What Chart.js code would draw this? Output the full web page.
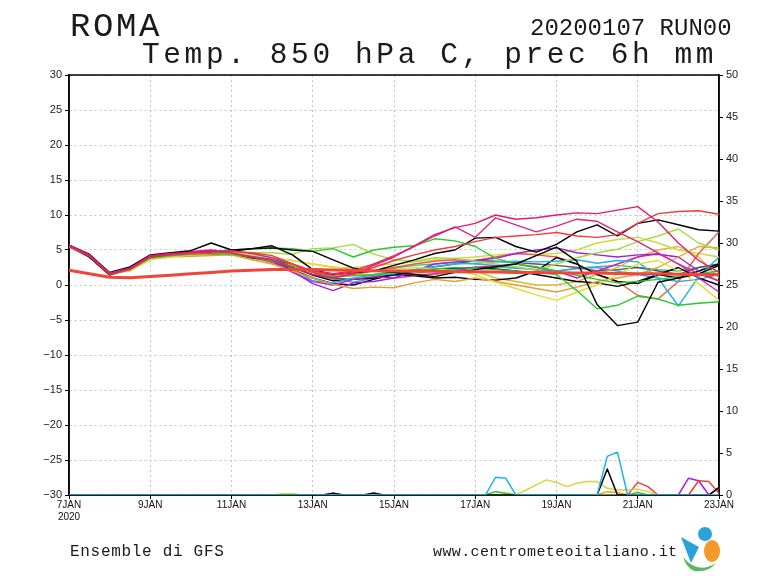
<!DOCTYPE html>
<html><head><meta charset="utf-8">
<script src="https://cdn.jsdelivr.net/npm/chart.js@4/dist/chart.umd.min.js"></script>
<style>
html,body{margin:0;padding:0;background:#fff;}
#wrap{position:relative;width:768px;height:576px;overflow:hidden;background:#fff;}
#c{position:absolute;left:0;top:0;}
.t{position:absolute;font-family:"Liberation Mono",monospace;color:#1a1a1a;white-space:nowrap;line-height:1;}
</style></head><body>
<div id="wrap">
<canvas id="c" width="768" height="576"></canvas>
<div class="t" style="left:70px;top:10px;font-size:34px;letter-spacing:2.6px;">ROMA</div>
<div class="t" style="left:530px;top:17px;font-size:24px;">20200107 RUN00</div>
<div class="t" style="left:142px;top:41px;font-size:29.5px;letter-spacing:3.6px;">Temp. 850 hPa C, prec 6h mm</div>
<div class="t" style="left:70px;top:544px;font-size:16px;letter-spacing:0.7px;">Ensemble di GFS</div>
<div class="t" style="left:433px;top:545px;font-size:15px;letter-spacing:0.4px;">www.centrometeoitaliano.it</div>
<svg style="position:absolute;left:678px;top:525px" width="44" height="48" viewBox="0 0 44 48">
 <circle cx="27" cy="9" r="7" fill="#29a3dc"/>
 <path d="M3 12 L13 38 L21 22 Z" fill="#29a3dc"/>
 <ellipse cx="34" cy="26" rx="8" ry="11" fill="#f39a2b"/>
 <path d="M5 32 Q20 50 38 38 Q30 48 16 46 Q8 42 5 32 Z" fill="#5cb85c"/>
</svg>
</div>
<script>
// ---- time axes (days since 7 JAN 2020 00Z) ----
const tempDays = [0,0.5,1,1.5,2,2.5,3,3.5,4,4.5,5,5.5,6,6.5,7,7.5,8,8.5,9,9.5,10,10.5,11,11.5,12,12.5,13,13.5,14,14.5,15,15.5,16];
const precipDays = [0,0.25,0.5,0.75,1,1.25,1.5,1.75,2,2.25,2.5,2.75,3,3.25,3.5,3.75,4,4.25,4.5,4.75,5,5.25,5.5,5.75,6,6.25,6.5,6.75,7,7.25,7.5,7.75,8,8.25,8.5,8.75,9,9.25,9.5,9.75,10,10.25,10.5,10.75,11,11.25,11.5,11.75,12,12.25,12.5,12.75,13,13.25,13.5,13.75,14,14.25,14.5,14.75,15,15.25,15.5,15.75,16];
const xTickLabels = ['7JAN','9JAN','11JAN','13JAN','15JAN','17JAN','19JAN','21JAN','23JAN'];
const yearLabel = '2020';

// ---- 850 hPa temperature, ensemble members (C) ----
const climT = [2.1,1.6,1.1,1.05,1.2,1.4,1.6,1.8,2.0,2.1,2.2,2.2,2.2,2.15,2.1,2.05,2.0,2.0,1.95,1.9,1.9,1.85,1.8,1.8,1.75,1.7,1.7,1.65,1.6,1.6,1.55,1.5,1.5];
const m01 = [5.6,4.2,1.6,2.3,4.1,4.4,4.7,4.9,4.6,4.0,3.6,2.4,1.5,1.0,1.6,2.8,4.0,5.6,7.2,8.2,8.8,10.0,9.4,9.6,10.0,10.3,10.2,10.7,11.2,9.0,6.0,3.5,1.8];
const m02 = [5.5,4.1,1.5,2.2,4.0,4.3,4.5,4.6,4.8,4.6,4.2,3.0,1.8,1.4,1.8,2.5,3.5,4.3,5.0,5.5,6.2,6.8,7.0,7.2,7.5,7.0,6.8,7.2,8.8,10.2,10.5,10.6,10.1];
const m03 = [5.7,4.3,1.7,2.4,4.2,4.5,4.6,4.8,4.9,4.5,3.9,3.0,2.0,1.6,2.0,3.0,4.2,5.5,7.0,8.3,6.8,9.6,8.6,7.6,8.4,9.4,9.1,7.6,6.2,4.6,3.0,1.6,0.6];
const m04 = [5.7,4.4,1.8,2.6,4.3,4.6,4.9,6.0,5.0,5.2,5.6,4.3,2.2,1.5,1.8,2.0,2.8,3.6,4.5,5.0,6.7,6.8,5.5,4.7,5.8,7.6,8.6,7.0,8.8,9.3,8.6,7.9,7.7];
const m05 = [5.6,4.0,1.5,2.4,4.0,4.4,4.6,4.7,4.8,5.2,5.3,5.0,4.8,3.6,2.4,2.0,1.8,1.5,1.2,1.8,2.2,2.6,3.0,4.2,5.4,3.4,-2.8,-5.8,-5.3,0.4,1.0,1.6,2.8];
const m06 = [5.5,4.0,1.4,2.2,3.9,4.2,4.4,4.5,4.4,4.0,3.4,2.6,1.8,1.2,1.3,1.5,1.8,2.0,2.3,2.5,2.4,2.2,2.0,1.8,1.5,-0.8,-3.4,-2.9,-1.6,-2.0,-2.9,-2.6,-2.4];
const m07 = [5.6,4.1,1.5,2.3,4.0,4.3,4.6,4.8,5.0,5.1,5.3,5.2,4.8,5.2,4.0,5.0,5.4,5.6,6.6,6.3,5.5,3.8,3.0,2.6,2.0,1.4,0.8,0.3,0.5,0.8,1.2,1.6,2.0];
const m08 = [5.6,4.2,1.7,2.1,3.7,4.1,4.4,4.6,4.7,4.6,4.6,4.4,5.2,5.3,5.8,4.4,3.6,3.4,3.9,3.8,3.4,3.0,2.6,2.1,3.0,3.9,4.6,5.1,6.2,7.0,8.0,6.0,5.0];
const m09 = [5.5,4.0,1.6,2.0,3.6,4.0,4.3,4.5,4.6,4.3,3.9,3.5,3.0,2.6,2.2,2.0,2.2,2.5,2.3,2.0,1.5,0.4,-0.5,-1.4,-2.2,-1.0,0.0,1.5,3.0,3.5,2.0,0.2,-2.2];
const m10 = [5.6,4.1,1.6,2.2,3.8,4.0,4.1,4.2,4.3,3.6,3.0,2.0,1.0,0.1,-0.5,-0.3,-0.4,0.3,0.8,0.5,1.0,0.5,0.0,-0.5,-1.0,-0.3,0.5,1.0,1.5,2.5,4.0,5.5,5.3];
const m11 = [5.6,4.2,1.6,2.4,4.0,4.3,4.5,4.7,4.6,4.2,3.7,2.3,0.6,0.3,1.0,1.4,1.6,2.2,2.6,3.0,3.1,3.3,3.4,3.3,3.4,3.6,3.1,3.5,3.3,1.0,-3.0,1.2,4.0];
const m12 = [5.7,4.3,1.6,2.5,4.2,4.5,4.7,4.9,4.7,4.2,3.5,2.0,0.2,-0.8,0.3,0.5,1.0,2.0,3.0,3.3,3.5,3.8,4.5,5.0,5.3,4.6,4.3,4.0,4.3,4.4,4.0,2.0,0.5];
const m13 = [5.6,4.2,1.5,2.3,4.1,4.4,4.8,5.0,4.7,4.1,3.3,1.8,0.5,0.0,0.8,1.2,1.0,1.3,1.6,2.0,2.5,2.8,3.0,2.5,2.0,1.0,2.0,3.0,4.0,4.5,3.0,1.0,-1.0];
const m14 = [5.5,4.0,1.4,2.3,4.0,4.3,4.5,4.6,4.6,4.1,3.4,2.2,1.0,0.2,0.0,0.8,1.5,1.3,1.0,1.1,0.8,0.7,1.0,2.0,3.9,3.0,1.5,0.5,0.2,1.5,1.0,2.0,3.0];
const m15 = [5.6,4.1,1.5,2.4,4.1,4.5,4.6,4.7,4.5,3.9,3.5,2.6,1.4,0.6,0.8,1.0,1.5,2.0,2.2,2.4,2.5,2.3,2.0,1.5,1.0,0.5,0.3,-0.2,0.5,1.5,2.5,1.0,0.0];
const m16 = [5.6,4.0,1.5,2.3,3.9,4.1,4.3,4.4,4.5,4.0,3.2,2.5,1.5,1.2,1.5,2.0,2.5,3.0,3.4,3.6,3.5,4.0,4.5,4.3,4.0,3.0,1.5,0.5,-1.5,-2.0,0.5,4.5,7.6];
const m17 = [5.6,4.1,1.6,2.4,4.0,4.2,4.4,4.5,4.5,4.2,3.8,3.5,3.0,2.5,2.5,2.8,3.0,3.3,3.6,3.8,4.0,4.3,4.5,4.4,4.5,5.0,6.0,6.5,6.8,6.0,5.0,4.5,4.0];
const m18 = [5.5,4.0,1.5,2.2,3.8,4.1,4.3,4.4,4.3,3.8,3.3,2.8,2.0,1.6,1.4,1.5,1.8,1.6,1.5,1.8,2.0,1.0,0.5,0.0,0.0,0.5,1.5,2.5,4.0,5.0,5.5,4.0,1.0];
const m19 = [5.6,4.2,1.6,2.3,4.0,4.4,4.6,4.7,4.6,4.2,3.7,2.8,1.8,1.0,0.8,1.2,1.8,2.2,2.6,3.0,3.5,3.4,3.2,3.0,2.8,2.5,2.0,2.2,2.5,2.0,1.5,2.5,3.0];
const m20 = [5.6,4.1,1.5,2.4,4.1,4.4,4.6,4.7,4.5,4.0,3.5,2.6,1.4,0.8,0.4,1.0,1.4,1.7,2.0,2.2,2.5,2.6,2.4,2.2,2.0,2.3,2.5,2.0,1.5,1.0,0.5,0.8,1.5];
const m21 = [5.5,4.0,1.5,2.3,3.9,4.3,4.5,4.6,4.4,4.0,3.6,2.9,2.0,1.5,1.7,2.0,2.4,2.8,3.0,3.2,3.0,2.8,2.5,2.2,2.0,2.4,2.6,2.8,2.5,2.2,2.0,2.5,3.0];

// ---- 6h precipitation (mm), right axis ----
const precipCyan = [0,0,0,0, 0,0,0,0, 0,0,0,0, 0,0,0,0, 0,0,0,0, 0,0,0,0, 0,0,0,0, 0,0,0,0, 0,0,0,0, 0,0,0,0, 0,0,2.1,2.0, 0,0,0,0, 0,0,0,0, 0,4.6,5.1,0, 0,0,0,0, 0,0,0,0, 0];
const precipBlack = [0,0,0,0, 0,0,0,0, 0,0,0,0, 0,0,0,0, 0,0,0,0, 0,0,0,0, 0,0,0.2,0, 0,0,0.25,0, 0,0,0,0, 0,0,0,0, 0,0,0,0, 0,0,0,0, 0,0,0,0, 0,3.1,0,0, 0,0,0,0, 0,0,0,0, 0.9];
const precipYellow = [0,0,0,0, 0,0,0,0, 0,0,0,0, 0,0,0,0, 0,0,0,0, 0,0.15,0.15,0, 0,0,0,0, 0,0,0,0, 0,0,0,0, 0,0,0,0, 0,0,0,0, 0,0.6,1.2,1.8, 1.5,1.0,1.4,1.6, 1.6,0.8,0.6,0.6, 0.7,0.4,0,0, 0,0,0,0, 0];
const precipGreen = [0,0,0,0, 0,0,0,0, 0,0,0,0, 0,0,0,0, 0,0,0,0, 0,0,0,0, 0,0,0,0, 0,0,0,0, 0,0,0,0, 0,0,0,0, 0,0,0.4,0.2, 0,0,0,0, 0,0,0,0, 0,0,0,0, 0.3,0,0,0, 0,0,0,0, 0];
const precipRed = [0,0,0,0, 0,0,0,0, 0,0,0,0, 0,0,0,0, 0,0,0,0, 0,0,0,0, 0,0,0,0, 0,0,0,0, 0,0,0,0, 0,0,0,0, 0,0,0,0, 0,0,0,0, 0,0,0,0, 0,0,0,0, 1.5,1.0,0,0, 0,0,1.7,1.6, 0.2];
const precipPurple = [0,0,0,0, 0,0,0,0, 0,0,0,0, 0,0,0,0, 0,0,0,0, 0,0,0,0, 0,0,0.2,0, 0,0,0,0, 0,0,0,0, 0,0,0,0, 0,0,0,0, 0,0,0,0, 0,0,0,0, 0,0,0,0, 0,0,0,0, 0,2.0,1.7,0, 0];
const precipMagenta = [0,0,0,0, 0,0,0,0, 0,0,0,0, 0,0,0,0, 0,0,0,0, 0,0,0,0, 0,0,0,0, 0,0,0,0, 0,0,0,0, 0,0,0,0, 0,0,0,0, 0,0,0,0, 0,0,0,0, 0,0,0,0, 0,0,0,0, 0,0,0,0, 0.8];
const precipOrange = [0,0,0,0, 0,0,0,0, 0,0,0,0, 0,0,0,0, 0,0,0,0, 0,0,0,0, 0,0,0,0, 0,0,0,0, 0,0,0,0, 0,0,0,0, 0,0,0,0, 0,0,0,0, 0,0,0,0, 0,0.4,0.3,0, 0,0,0,0, 0,0,0,0, 0];

const members = [
  [m01,'#e6196e'],[m02,'#f03c3c'],[m03,'#dc287d'],[m04,'#000000'],[m05,'#000000'],
  [m06,'#2cc82c'],[m07,'#2cc82c'],[m08,'#a0dc3c'],[m09,'#e6dc32'],[m10,'#e6a030'],
  [m11,'#1eb4e6'],[m12,'#a01ee6'],[m13,'#d21ebe'],[m14,'#000000'],[m15,'#000000'],
  [m16,'#f05a46'],[m17,'#c8dc3c'],[m18,'#e6b432'],[m19,'#5a5a5a'],[m20,'#46a0f0'],[m21,'#32be8c']
];
const precips = [
  [precipCyan,'#1eb4e6'],[precipBlack,'#000000'],[precipYellow,'#dcd23c'],[precipGreen,'#2cc82c'],
  [precipRed,'#f03c3c'],[precipPurple,'#a01ee6'],[precipMagenta,'#d21ebe'],[precipOrange,'#e6a030']
];

const toXY = (xs, ys) => xs.map((x,i)=>({x:x, y:ys[i]}));
const datasets = [];
datasets.push({data:toXY(tempDays, climT), borderColor:'#f0463a', borderWidth:3, yAxisID:'y'});
precips.forEach(([arr,col])=>datasets.push({data:toXY(precipDays, arr), borderColor:col, borderWidth:1.5, yAxisID:'y2'}));
members.forEach(([arr,col])=>datasets.push({data:toXY(tempDays, arr), borderColor:col, borderWidth:1.4, yAxisID:'y'}));

const framePlugin = {
  id:'frame',
  beforeDatasetsDraw(chart){
    const {ctx, chartArea:a} = chart;
    ctx.save(); ctx.strokeStyle='#000'; ctx.lineWidth=1.5;
    ctx.strokeRect(a.left, a.top, a.right-a.left, a.bottom-a.top);
    ctx.restore();
  }
};
const minus = v => String(v).replace('-', '\u2212');
Chart.defaults.font.family = "'Liberation Sans', Arial, sans-serif";
new Chart(document.getElementById('c'), {
  type:'line',
  data:{datasets},
  options:{
    responsive:false, animation:false, devicePixelRatio:1,
    layout:{padding:{top:75,left:0,right:0,bottom:0}},
    plugins:{legend:{display:false}, tooltip:{enabled:false}},
    elements:{point:{radius:0}, line:{tension:0, borderJoinStyle:'round', fill:false}},
    scales:{
      x:{type:'linear', min:0, max:16,
        afterFit(s){ s.height = 81; },
        ticks:{stepSize:2, autoSkip:false, maxRotation:0, padding:0, color:'#111', font:{size:10},
          callback:(v)=>{ const i=Math.round(v/2); return i===0 ? [xTickLabels[0], yearLabel] : xTickLabels[i]; }},
        grid:{color:'#c4c4c4', tickColor:'#000', tickLength:4, tickBorderDash:[], lineWidth:1},
        border:{color:'#000', width:1.5, dash:[2,3]}},
      y:{position:'left', min:-30, max:30,
        afterFit(s){ s.width = 69; },
        ticks:{stepSize:5, padding:3, color:'#222', font:{size:11}, callback:minus},
        grid:{color:'#c4c4c4', tickColor:'#000', tickLength:4, tickBorderDash:[], lineWidth:1},
        border:{color:'#000', width:1.5, dash:[2,3]}},
      y2:{position:'right', min:0, max:50,
        afterFit(s){ s.width = 49; },
        ticks:{stepSize:5, padding:3, color:'#222', font:{size:11}},
        grid:{drawOnChartArea:false, tickColor:'#000', tickLength:4},
        border:{color:'#000', width:1.5}}
    }
  },
  plugins:[framePlugin]
});
</script>
</body></html>
